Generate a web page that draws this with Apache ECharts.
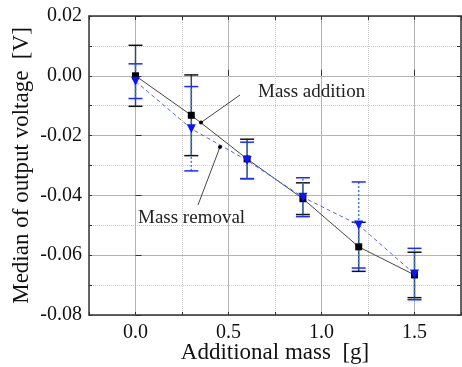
<!DOCTYPE html>
<html>
<head>
<meta charset="utf-8">
<script src="https://cdn.jsdelivr.net/npm/echarts@6/dist/echarts.min.js"></script>
<style>
  html, body { margin: 0; padding: 0; background: #fff; }
  #chart { width: 462px; height: 367px; }
</style>
</head>
<body>
<div id="chart"></div>
<script>
// additional mass [g]
var massX = [0, 0.3, 0.6, 0.9, 1.2, 1.5]
// mass addition: median and error half-width [V]
var addMedian = [0.000, -0.0132, -0.0278, -0.0411, -0.0572, -0.0666]
var addErr = [0.0102, 0.0135, 0.0066, 0.0053, 0.0082, 0.0076]
// mass removal
var removeMedian = [-0.0018, -0.0177, -0.0283, -0.0406, -0.0499, -0.0663]
var removeErr = [0.0058, 0.0141, 0.0061, 0.0065, 0.0144, 0.0086]
// tick labels
var xTicks = [0, 0.5, 1.0, 1.5]
var yTicks = [-0.08, -0.06, -0.04, -0.02, 0.00, 0.02]

var FONT = '"Liberation Serif", "Times New Roman", serif'

function pairs(xs, ys) {
  return xs.map(function (x, i) { return [x, ys[i]] })
}
function bars(xs, ys, es) {
  return xs.map(function (x, i) { return [x, ys[i] - es[i], ys[i] + es[i]] })
}
function errorBar(color, stemColor, stemType) {
  return function (params, api) {
    var x = api.value(0)
    var lo = api.coord([x, api.value(1)])
    var hi = api.coord([x, api.value(2)])
    var w = 7
    return {
      type: 'group',
      children: [
        { type: 'line', shape: { x1: lo[0], y1: lo[1], x2: hi[0], y2: hi[1] },
          style: { stroke: stemColor, lineWidth: 1.5, lineDash: stemType } },
        { type: 'line', shape: { x1: hi[0] - w, y1: hi[1], x2: hi[0] + w, y2: hi[1] },
          style: { stroke: color, lineWidth: 1.5 } },
        { type: 'line', shape: { x1: lo[0] - w, y1: lo[1], x2: lo[0] + w, y2: lo[1] },
          style: { stroke: color, lineWidth: 1.5 } }
      ]
    }
  }
}

var chart = echarts.init(document.getElementById('chart'))
var frame = { show: true, onZero: false, lineStyle: { color: '#333', width: 1.5 } }
var option = {
  animation: false,
  grid: { left: 89, right: 1, top: 16, bottom: 52, containLabel: false, outerBoundsMode: 'none' },
  xAxis: [
    { type: 'value', position: 'bottom', min: -0.25, max: 1.75, interval: 0.25,
      axisLine: frame, axisLabel: { show: false },
      axisTick: { inside: true, length: 3, lineStyle: { color: '#333' } },
      splitLine: { show: true, lineStyle: { color: '#c8c8c8', type: 'dotted', width: 1 } } },
    { type: 'value', position: 'bottom', min: -0.25, max: 1.75,
      axisLine: { show: false },
      axisTick: { inside: true, length: 6, customValues: xTicks, lineStyle: { color: '#333' } },
      axisLabel: { customValues: xTicks, margin: 8, color: '#111', fontFamily: FONT, fontSize: 20,
        formatter: function (v) { return v.toFixed(1) } },
      splitLine: { show: true, lineStyle: { color: '#b4b4b4', width: 1 } },
      name: 'Additional mass  [g]', nameLocation: 'middle', nameGap: 26, nameMoveOverlap: false,
      nameTextStyle: { color: '#111', fontFamily: FONT, fontSize: 23 } },
    { type: 'value', position: 'top', min: -0.25, max: 1.75, interval: 0.25,
      axisLine: frame, axisLabel: { show: false },
      axisTick: { inside: true, length: 4, lineStyle: { color: '#333' } },
      splitLine: { show: false } }
  ],
  yAxis: [
    { type: 'value', position: 'left', min: -0.08, max: 0.02, interval: 0.01,
      axisLine: frame, axisLabel: { show: false },
      axisTick: { inside: true, length: 3, lineStyle: { color: '#333' } },
      splitLine: { show: true, lineStyle: { color: '#c8c8c8', type: 'dotted', width: 1 } } },
    { type: 'value', position: 'left', min: -0.08, max: 0.02,
      axisLine: { show: false },
      axisTick: { inside: true, length: 6, customValues: yTicks, lineStyle: { color: '#333' } },
      axisLabel: { customValues: yTicks, margin: 7, color: '#111', fontFamily: FONT, fontSize: 20,
        formatter: function (v) { return v.toFixed(2) } },
      splitLine: { show: true, lineStyle: { color: '#b4b4b4', width: 1 } },
      name: 'Median of output voltage  [V]', nameLocation: 'middle', nameGap: 56, nameRotate: 90,
      nameMoveOverlap: false,
      nameTextStyle: { color: '#111', fontFamily: FONT, fontSize: 23 } },
    { type: 'value', position: 'right', min: -0.08, max: 0.02, interval: 0.01,
      axisLine: frame, axisLabel: { show: false },
      axisTick: { inside: true, length: 4, lineStyle: { color: '#333' } },
      splitLine: { show: false } }
  ],
  series: [
    { name: 'addition error', type: 'custom', xAxisIndex: 0, yAxisIndex: 0,
      renderItem: errorBar('#111', '#334a5a', null), data: bars(massX, addMedian, addErr), z: 3 },
    { name: 'removal error', type: 'custom', xAxisIndex: 0, yAxisIndex: 0,
      renderItem: errorBar('#1a2cff', '#3a7bd5', [2, 2]), data: bars(massX, removeMedian, removeErr), z: 4 },
    { name: 'Mass addition', type: 'line', xAxisIndex: 0, yAxisIndex: 0,
      data: pairs(massX, addMedian), symbol: 'rect', symbolSize: 7,
      lineStyle: { color: '#444', width: 1 }, itemStyle: { color: '#000' }, z: 5 },
    { name: 'Mass removal', type: 'line', xAxisIndex: 0, yAxisIndex: 0,
      data: pairs(massX, removeMedian), symbol: 'triangle', symbolRotate: 180, symbolSize: 9,
      lineStyle: { color: '#5566ee', width: 1, type: [4, 3] }, itemStyle: { color: '#0a14ff' }, z: 6 }
  ],
  graphic: [
    { type: 'line', shape: { x1: 240, y1: 95, x2: 201, y2: 122.5 }, style: { stroke: '#444', lineWidth: 1 }, z: 10 },
    { type: 'circle', shape: { cx: 201, cy: 122.5, r: 2 }, style: { fill: '#000' }, z: 10 },
    { type: 'line', shape: { x1: 198, y1: 205, x2: 220, y2: 147 }, style: { stroke: '#444', lineWidth: 1 }, z: 10 },
    { type: 'circle', shape: { cx: 220, cy: 147, r: 2 }, style: { fill: '#000' }, z: 10 },
    { type: 'text', x: 258, y: 92, z: 10,
      style: { text: 'Mass addition', fill: '#222', font: '19px ' + FONT, verticalAlign: 'middle' } },
    { type: 'text', x: 138, y: 218, z: 10,
      style: { text: 'Mass removal', fill: '#222', font: '19px ' + FONT, verticalAlign: 'middle' } }
  ]
}
chart.setOption(option)
</script>
</body>
</html>
